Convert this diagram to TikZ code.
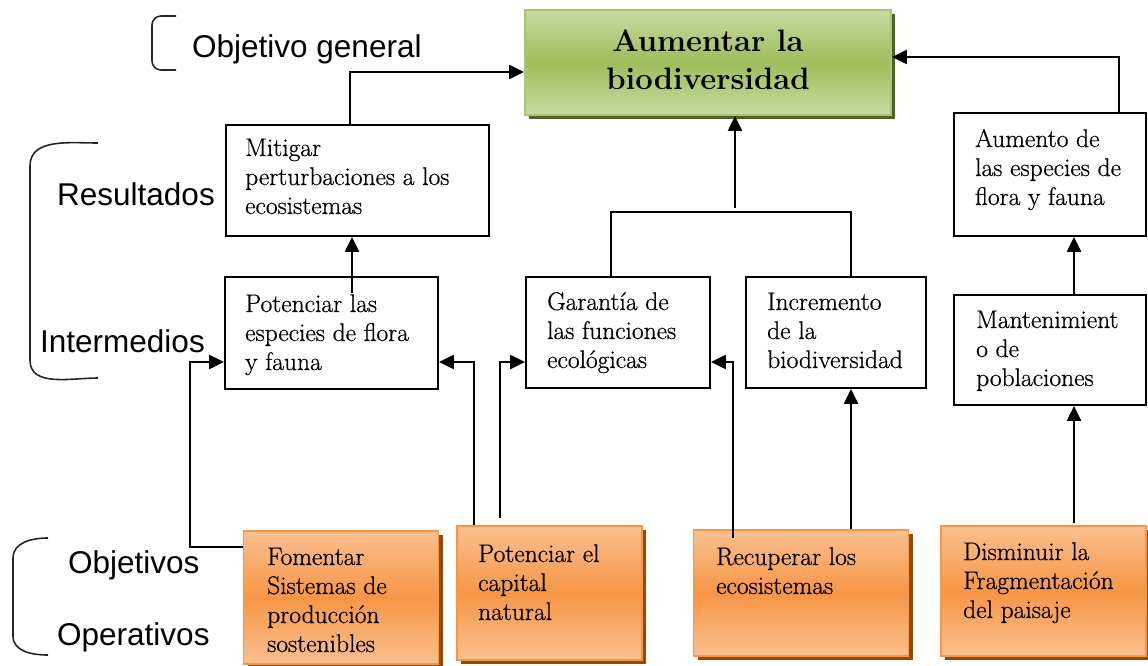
\documentclass[tikz,border=0pt]{standalone}
\usepackage{fontspec}
\setsansfont{Liberation Sans}
\newfontfamily\boxfont[FakeBold=0.6]{Latin Modern Roman}
\usetikzlibrary{arrows.meta,shadows,calc}
\definecolor{gLight}{HTML}{C9DBA3}
\definecolor{gMid}{HTML}{9EBD5C}
\definecolor{gBorder}{HTML}{A9C56F}
\definecolor{gShadow}{HTML}{4F6228}
\definecolor{oLight}{HTML}{FAC090}
\definecolor{oMid}{HTML}{F79646}
\definecolor{oShadow}{HTML}{984807}
\tikzset{
  wbox/.style={draw=black, line width=1.8pt, fill=white, inner sep=0pt},
  obox/.style={draw=oMid, line width=1.8pt, inner sep=0pt, top color=oLight, bottom color=oLight, middle color=oMid,
     drop shadow={shadow xshift=4pt, shadow yshift=-4pt, fill=oShadow, opacity=1}},
  gbox/.style={draw=gBorder, line width=1.8pt, inner sep=0pt, top color=gLight, bottom color=gLight, middle color=gMid,
     drop shadow={shadow xshift=4pt, shadow yshift=-4pt, fill=gShadow, opacity=1}},
  btxt/.style={anchor=base west, inner sep=0pt, align=left, font=\boxfont\fontsize{25.5}{29}\selectfont},
  lbl/.style={anchor=base west, inner sep=0pt, font=\sffamily\fontsize{31.5}{36}\selectfont},
  conn/.style={line width=2.2pt},
  arr/.style={line width=2.2pt, -{Triangle[length=15pt,width=14pt]}},
  brk/.style={line width=1.6pt, black!85},
}
\begin{document}
\begin{tikzpicture}[x=1pt,y=-1pt]
\useasboundingbox (0,0) rectangle (1148,666);
% boxes
\node[gbox, minimum width=366pt, minimum height=105pt] (goal) at (708,62.5) {};
\node[wbox, minimum width=263pt, minimum height=111pt] (mit) at (357.5,180.5) {};
\node[wbox, minimum width=192pt, minimum height=123pt] (aum) at (1050,174.5) {};
\node[wbox, minimum width=213pt, minimum height=112pt] (pot) at (331.5,333) {};
\node[wbox, minimum width=184pt, minimum height=111pt] (gar) at (618,332.5) {};
\node[wbox, minimum width=180pt, minimum height=111pt] (inc) at (836,332.5) {};
\node[wbox, minimum width=192pt, minimum height=110pt] (man) at (1050,350) {};
\node[obox, minimum width=195pt, minimum height=133pt] (fom) at (341,597.5) {};
\node[obox, minimum width=185pt, minimum height=134pt] (cap) at (549.5,593) {};
\node[obox, minimum width=215pt, minimum height=126pt] (rec) at (801,593) {};
\node[obox, minimum width=205pt, minimum height=130pt] (dis) at (1043.5,591) {};
% texts (anchor = baseline of last line)
\node[anchor=base, inner sep=0pt, align=center, font=\fontsize{31}{38}\selectfont\bfseries] (goalT) at (708,90) {Aumentar la\\biodiversidad};
\node[btxt] (mitT) at (245,214) {Mitigar\\perturbaciones a los\\ecosistemas};
\node[btxt] (aumT) at (975,205) {Aumento de\\las especies de\\flora y fauna};
\node[btxt] (potT) at (245,370) {Potenciar las\\especies de flora\\y fauna};
\node[btxt] (garT) at (547,368) {Garantía de\\las funciones\\ecológicas};
\node[btxt] (incT) at (767,368) {Incremento\\de la\\biodiversidad};
\node[btxt] (manT) at (976,386) {Mantenimient\\o de\\poblaciones};
\node[btxt] (fomT) at (267,652) {Fomentar\\Sistemas de\\producción\\sostenibles};
\node[btxt] (capT) at (478,620) {Potenciar el\\capital\\natural};
\node[btxt] (recT) at (716,594) {Recuperar los\\ecosistemas};
\node[btxt] (disT) at (963,618) {Disminuir la\\Fragmentación\\del paisaje};
% left labels
\node[lbl] (lgen) at (192,58) {Objetivo general};
\node[lbl] (lres) at (57,205) {Resultados};
\node[lbl] (lint) at (40,352) {Intermedios};
\node[lbl] (lobj) at (68,573) {Objetivos};
\node[lbl] (lope) at (57,645) {Operativos};
% brackets
\draw[brk] (176,16) -- (161,16) to[out=180,in=90] (152,25) -- (152,61) to[out=-90,in=180] (161,70) -- (176,70);
\draw[brk] (98,143) to[out=180,in=90] (30,166) -- (30,360) to[out=-90,in=180] (98,378);
\draw[brk] (48,538) to[out=180,in=90] (13,558) -- (13,636) to[out=-90,in=180] (48,655);
% connectors to goal
\draw[arr] (mit.north -| 350,0) |- (goal.west |- 0,72);
\draw[arr] (aum.north -| 1119,0) |- (goal.east |- 0,57);
\coordinate (jc) at (735,212);
\draw[arr] (735,208) -- (goal.south -| 735,0);
\draw[conn] (gar.north -| 611,0) |- (851,212) -- (inc.north -| 851,0);
% intermediates to results
\coordinate (potin) at (352,293);
\draw[arr] (potin) -- (mit.south -| potin);
\draw[arr] (man.north -| 1074,0) -- (aum.south -| 1074,0);
% operatives
\coordinate (fomc) at (190,547);
\draw[arr] (fom.west |- fomc) -- (fomc) |- (pot.west |- 0,362);
\draw[arr] (cap.north -| 474,0) |- (pot.east |- 0,362);
\coordinate (capr) at (500,518);
\draw[arr] (capr) |- (gar.west |- 0,362);
\coordinate (recin) at (733,538);
\draw[arr] (recin) |- (gar.east |- 0,362);
\draw[arr] (rec.north -| 851,0) -- (inc.south -| 851,0);
\coordinate (disc) at (1074,523);
\draw[arr] (disc) -- (man.south -| disc);
\end{tikzpicture}
\end{document}
